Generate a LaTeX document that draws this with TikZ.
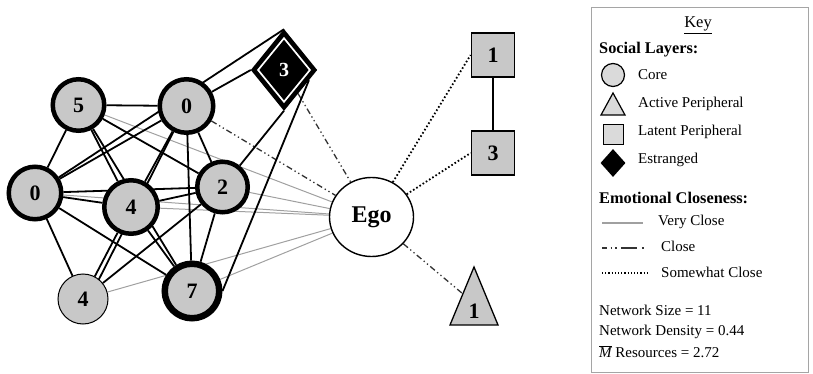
\documentclass[tikz,border=0pt]{standalone}
\usepackage{fontspec}
\setmainfont{Liberation Serif}
\usetikzlibrary{shapes.geometric,backgrounds,calc}
\definecolor{nodegray}{RGB}{200,200,200}
\definecolor{keygray}{RGB}{218,218,218}
\definecolor{vcgray}{RGB}{160,160,160}
\definecolor{boxgray}{RGB}{165,165,165}
\begin{document}
\begin{tikzpicture}[x=1pt,y=-1pt,
  core/.style={circle, draw=black, fill=nodegray, line width=4.5pt, inner sep=0pt,
    font=\fontsize{22}{22}\selectfont\bfseries},
  latent/.style={rectangle, draw=black, fill=nodegray, line width=1.8pt, inner sep=0pt,
    minimum width=43pt, minimum height=44pt, font=\fontsize{22}{22}\selectfont\bfseries},
  tie/.style={line width=1.8pt, black},
  vclose/.style={line width=1pt, vcgray},
  closeln/.style={line width=1.3pt, black!80, dash pattern=on 6pt off 3pt on 1.3pt off 3pt on 1.3pt off 3pt},
  swclose/.style={line width=1.8pt, black, dash pattern=on 1.6pt off 2.2pt},
  keytext/.style={anchor=base west, inner sep=0pt, font=\fontsize{15}{15}\selectfont},
  keyhead/.style={anchor=base west, inner sep=0pt, font=\fontsize{16.3}{16}\selectfont\bfseries}
]
\useasboundingbox (0,0) rectangle (813,374);

% ---- cluster nodes ----
\node[core, minimum size=51.5pt] (A) at (78.5,105) {5};
\node[core, minimum size=53.5pt] (B) at (186.5,106) {0};
\node[core, minimum size=52.5pt] (C) at (35,193) {0};
\node[core, minimum size=53.5pt] (E) at (131,207) {4};
\node[core, minimum size=50.5pt] (F) at (222.5,187) {2};
\node[core, line width=1pt, minimum size=50pt] (G) at (83,299) {4};
\node[core, line width=6.5pt, minimum size=54.5pt] (H) at (192,291) {7};
\node[diamond, draw=black, fill=black, line width=1.5pt, inner sep=0pt,
  minimum width=65pt, minimum height=80pt, text=white,
  font=\fontsize{20}{20}\selectfont\bfseries] (D) at (284,70) {3};
\draw[white, line width=1.7pt]
  ($(D.north)!0.22!(D.center)$) -- ($(D.east)!0.22!(D.center)$) --
  ($(D.south)!0.22!(D.center)$) -- ($(D.west)!0.22!(D.center)$) -- cycle;

% ---- ego and outer alters ----
\node[ellipse, draw=black, fill=white, line width=1.4pt, inner sep=0pt,
  minimum width=84pt, minimum height=79pt,
  font=\fontsize{24}{24}\selectfont\bfseries] (Ego) at (371.5,217) {Ego};
\node[latent] (S1) at (493,55) {1};
\node[latent] (S3) at (493,153) {3};
\draw[fill=nodegray, line width=1.3pt, line join=miter] (450,325) -- (474,267) -- (498,325) -- cycle;
\node[inner sep=0pt, font=\fontsize{22}{22}\selectfont\bfseries] (T) at (474,311) {1};
\coordinate (Tc) at (463,294);

% ---- connectors (behind nodes) ----
\begin{scope}[on background layer]
  \foreach \n in {A,C,E,F,G,H} \draw[vclose] (\n) -- (Ego);
  \draw[closeln] (B) -- (Ego);
  \draw[closeln] (D) -- (Ego);
  \draw[closeln] (Ego) -- (Tc);
  \draw[swclose] (Ego) -- (S1.west);
  \draw[swclose] (Ego) -- (S3.west);
  \draw[tie] (S1) -- (S3);
  \draw[tie] (A) -- (B);
  \draw[tie] (A) -- (C);
  \draw[tie] (A) -- (E);
  \draw[tie] (A) -- (F);
  \draw[tie] (A) -- (H);
  \draw[tie] (B) -- (C);
  \draw[tie] (B) -- (E);
  \draw[tie] (B) -- (F);
  \draw[tie] (B) -- ([xshift=6pt]G.center);
  \draw[tie] (B) -- (H);
  \draw[tie] (C) -- (E);
  \draw[tie] (C) -- (F);
  \draw[tie] (C) -- (G);
  \draw[tie] (C) -- (H);
  \draw[tie] (E) -- (F);
  \draw[tie] (E) -- (G);
  \draw[tie] (E) -- (H);
  \draw[tie] (F) -- (G);
  \draw[tie] (F) -- (H);
  \draw[tie] (D.north) -- (C);
  \draw[tie] (D.west) -- (B);
  \draw[tie] (D.south) -- (F);
  \draw[tie] ($(D.east)!0.25!(D.south)$) -- (H.east);
\end{scope}

% ---- key ----
\node[draw=boxgray, line width=1pt, minimum width=217pt, minimum height=365pt, inner sep=0pt] (box) at (699.5,190) {};
\node[anchor=base, inner sep=0pt, font=\fontsize{16.5}{16}\selectfont] (keyt) at (698,28) {\underline{Key}};
\node[keyhead] (sl) at (599,54) {Social Layers:};
\node[circle, draw=black, fill=keygray, line width=1.2pt, minimum size=23pt, inner sep=0pt] (kc) at (613,75) {};
\node[keytext] (kct) at (638,79.5) {Core};
\draw[fill=keygray, line width=1.2pt, line join=miter] (601,115) -- (613,93) -- (625,115) -- cycle;
\node[keytext] (kat) at (638,107.5) {Active Peripheral};
\node[rectangle, draw=black, fill=keygray, line width=1.5pt, minimum size=20pt, inner sep=0pt] (ks) at (613.5,134.5) {};
\node[keytext] (klt) at (638,136) {Latent Peripheral};
\node[diamond, fill=black, minimum width=25pt, minimum height=28pt, inner sep=0pt] (kd) at (613,163) {};
\node[keytext] (ket) at (638,164) {Estranged};
\node[keyhead] (ec) at (599,204) {Emotional Closeness:};
\coordinate (l1a) at (602,223); \coordinate (l1b) at (643,223);
\draw[vclose, line width=1.2pt] (l1a) -- (l1b);
\node[keytext] (vct) at (658,225) {Very Close};
\coordinate (l2a) at (602,248); \coordinate (l2b) at (644,248);
\draw[closeln, line width=1.6pt, dash pattern=on 5pt off 3.5pt on 1.4pt off 3.5pt on 1.4pt off 4pt on 16pt] (l2a) -- (l2b);
\node[keytext] (clt) at (661,251) {Close};
\coordinate (l3a) at (602,273); \coordinate (l3b) at (647,273);
\draw[line width=1.3pt, dash pattern=on 1.2pt off 2pt] (l3a) -- (l3b);
\node[keytext] (sct) at (661,277) {Somewhat Close};
\node[keytext] (ns) at (599,315) {Network Size = 11};
\node[keytext] (nd) at (599,335.5) {Network Density = 0.44};
\node[keytext] (mr) at (599,357) {$\overline{\textit{M}}$ Resources = 2.72};
\end{tikzpicture}
\end{document}
